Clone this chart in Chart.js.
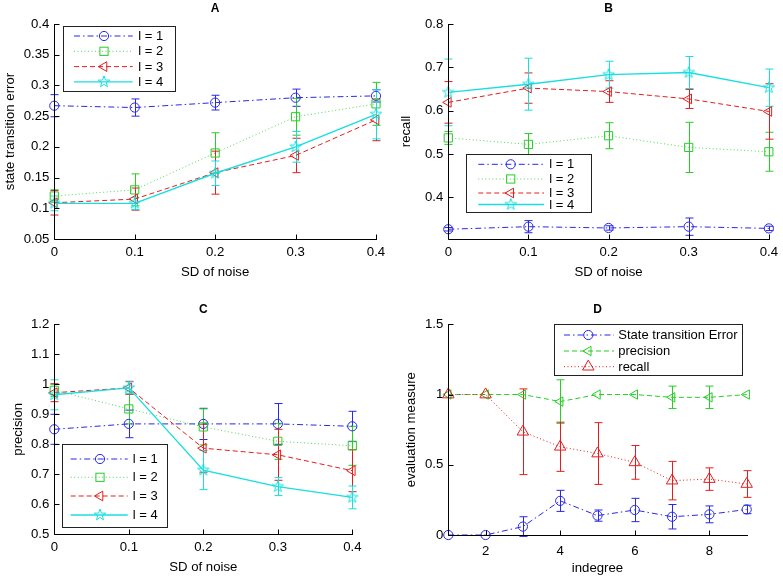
<!DOCTYPE html>
<html><head><meta charset="utf-8">
<script src="https://cdn.jsdelivr.net/npm/chart.js@4/dist/chart.umd.min.js"></script>
<style>
html,body{margin:0;padding:0;background:#fff;}
#wrap{position:relative;width:783px;height:578px;background:#fff;}
canvas{position:absolute;left:0;top:0;}
</style></head><body>
<div id="wrap">
<canvas id="cA" width="783" height="578"></canvas>
<canvas id="cB" width="783" height="578"></canvas>
<canvas id="cC" width="783" height="578"></canvas>
<canvas id="cD" width="783" height="578"></canvas>
</div>
<script>
// ---------------- DATA ----------------
const noiseSD = [0, 0.1, 0.2, 0.3, 0.4];
const noiseTickLabels = ['0', '0.1', '0.2', '0.3', '0.4'];
const lagLabels = ['l = 1', 'l = 2', 'l = 3', 'l = 4'];

// Panel A: state transition error
const steL1 = [0.267, 0.264, 0.272, 0.280, 0.283];
const steL1Err = [0.018, 0.014, 0.012, 0.014, 0.010];
const steL2 = [0.120, 0.130, 0.190, 0.249, 0.270];
const steL2Err = [0.010, 0.026, 0.033, 0.030, 0.035];
const steL3 = [0.109, 0.115, 0.158, 0.186, 0.244];
const steL3Err = [0.020, 0.018, 0.035, 0.028, 0.034];
const steL4 = [0.108, 0.108, 0.157, 0.200, 0.253];
const steL4Err = [0.012, 0.010, 0.020, 0.025, 0.040];
const yTicksA = [0.05, 0.1, 0.15, 0.2, 0.25, 0.3, 0.35, 0.4];
const yTickLabelsA = ['0.05', '0.1', '0.15', '0.2', '0.25', '0.3', '0.35', '0.4'];

// Panel B: recall
const recL1 = [0.326, 0.332, 0.329, 0.332, 0.328];
const recL1Err = [0.004, 0.014, 0.005, 0.020, 0.005];
const recL2 = [0.537, 0.522, 0.542, 0.515, 0.505];
const recL2Err = [0.015, 0.025, 0.030, 0.058, 0.045];
const recL3 = [0.619, 0.652, 0.644, 0.627, 0.598];
const recL3Err = [0.048, 0.035, 0.025, 0.022, 0.064];
const recL4 = [0.642, 0.661, 0.683, 0.688, 0.653];
const recL4Err = [0.077, 0.060, 0.031, 0.037, 0.043];
const yTicksB = [0.4, 0.5, 0.6, 0.7, 0.8];
const yTickLabelsB = ['0.4', '0.5', '0.6', '0.7', '0.8'];

// Panel C: precision
const preL1 = [0.850, 0.868, 0.868, 0.868, 0.860];
const preL1Err = [0.050, 0.046, 0.052, 0.068, 0.050];
const preL2 = [0.980, 0.918, 0.858, 0.810, 0.795];
const preL2Err = [0.020, 0.050, 0.060, 0.060, 0.065];
const preL3 = [0.972, 0.988, 0.787, 0.765, 0.712];
const preL3Err = [0.030, 0.022, 0.080, 0.085, 0.070];
const preL4 = [0.965, 0.988, 0.714, 0.659, 0.623];
const preL4Err = [0.050, 0.020, 0.065, 0.030, 0.038];
const yTicksC = [0.5, 0.6, 0.7, 0.8, 0.9, 1.0, 1.1, 1.2];
const yTickLabelsC = ['0.5', '0.6', '0.7', '0.8', '0.9', '1', '1.1', '1.2'];

// Panel D: evaluation measure vs indegree
const indegree = [1, 2, 3, 4, 5, 6, 7, 8, 9];
const measureLabels = ['State transition Error', 'precision', 'recall'];
const dSte = [0, 0, 0.060, 0.243, 0.138, 0.178, 0.130, 0.147, 0.182];
const dSteErr = [0, 0, 0.070, 0.075, 0.040, 0.083, 0.087, 0.060, 0.030];
const dPre = [1, 1, 1, 0.950, 1, 1, 0.980, 0.980, 1];
const dPreErr = [0, 0, 0, 0.155, 0, 0, 0.080, 0.080, 0];
const dRec = [1, 1, 0.735, 0.628, 0.580, 0.517, 0.387, 0.398, 0.363];
const dRecErr = [0, 0, 0.305, 0.175, 0.220, 0.120, 0.137, 0.080, 0.095];
const xTicksD = [2, 4, 6, 8];
const xTickLabelsD = ['2', '4', '6', '8'];
const yTicksD = [0, 0.5, 1, 1.5];
const yTickLabelsD = ['0', '0.5', '1', '1.5'];

// ---------------- STYLE ----------------
const FONT = "'Liberation Sans', Arial, Helvetica, sans-serif";
const TICK_SIZE = 13.2, TITLE_SIZE = 13.2, LEGEND_SIZE = 13;
const BLUE = 'rgb(40,40,230)', GREEN = 'rgb(40,205,40)', RED = 'rgb(228,30,30)', CYAN = 'rgb(25,222,222)';
const DASHDOT = [6, 3, 1.5, 3], DASHED = [5, 3], DOTTED = [1, 2.5], SOLID = [];

function makeStar(color, R) {
  const c = document.createElement('canvas');
  const s = Math.ceil(2 * R + 4);
  c.width = s; c.height = s;
  const g = c.getContext('2d');
  g.strokeStyle = color; g.lineWidth = 1;
  g.beginPath();
  for (let k = 0; k < 10; k++) {
    const rr = k % 2 ? R * 0.40 : R;
    const a = -Math.PI / 2 + k * Math.PI / 5;
    const px = s / 2 + rr * Math.cos(a), py = s / 2 + rr * Math.sin(a);
    if (k) g.lineTo(px, py); else g.moveTo(px, py);
  }
  g.closePath(); g.stroke();
  return c;
}
const STAR = makeStar(CYAN, 6);

const lagStyles = [
  { color: BLUE, dash: DASHDOT, pointStyle: 'circle', r: 4.6, rot: 0, width: 1 },
  { color: GREEN, dash: DOTTED, pointStyle: 'rect', r: 5.8, rot: 0, width: 0.8 },
  { color: RED, dash: DASHED, pointStyle: 'triangle', r: 5.6, rot: -90, width: 1 },
  { color: CYAN, dash: SOLID, pointStyle: STAR, r: 6, rot: 0, width: 1.4 }
];
const dStyles = [
  { color: BLUE, dash: DASHDOT, pointStyle: 'circle', r: 4.6, rot: 0, width: 1 },
  { color: GREEN, dash: DASHED, pointStyle: 'triangle', r: 5.4, rot: -90, width: 1 },
  { color: RED, dash: DOTTED, pointStyle: 'triangle', r: 6.6, rot: 0, width: 1 }
];

function buildDatasets(xs, series, errs, labels, styles) {
  return series.map((vals, i) => ({
    label: labels[i],
    data: xs.map((x, j) => ({ x: x, y: vals[j] })),
    errors: errs[i],
    borderColor: styles[i].color,
    backgroundColor: 'rgba(0,0,0,0)',
    borderWidth: styles[i].width,
    borderDash: styles[i].dash,
    pointStyle: styles[i].pointStyle,
    pointRadius: styles[i].r,
    pointRotation: styles[i].rot,
    pointBorderColor: styles[i].color,
    pointBackgroundColor: 'rgba(0,0,0,0)',
    pointBorderWidth: 1,
    tension: 0,
    fill: false,
    clip: false,
    order: series.length - i
  }));
}

function drawMarker(ctx, ds, x, y) {
  const st = ds.pointStyle, r = ds.pointRadius;
  ctx.save();
  ctx.setLineDash([]);
  ctx.strokeStyle = ds.borderColor;
  ctx.lineWidth = 1;
  if (st instanceof HTMLCanvasElement) {
    ctx.drawImage(st, x - st.width / 2, y - st.height / 2);
  } else if (st === 'circle') {
    ctx.beginPath(); ctx.arc(x, y, r, 0, Math.PI * 2); ctx.stroke();
  } else if (st === 'rect') {
    const s = Math.SQRT1_2 * r;
    ctx.strokeRect(x - s, y - s, 2 * s, 2 * s);
  } else if (st === 'triangle') {
    let a = (ds.pointRotation || 0) * Math.PI / 180;
    ctx.beginPath();
    ctx.moveTo(x + Math.sin(a) * r, y - Math.cos(a) * r);
    a += 2 * Math.PI / 3; ctx.lineTo(x + Math.sin(a) * r, y - Math.cos(a) * r);
    a += 2 * Math.PI / 3; ctx.lineTo(x + Math.sin(a) * r, y - Math.cos(a) * r);
    ctx.closePath(); ctx.stroke();
  }
  ctx.restore();
}

const deco = {
  id: 'deco',
  beforeDatasetsDraw(chart) {
    const ctx = chart.ctx, ys = chart.scales.y;
    chart.data.datasets.forEach((ds, di) => {
      const meta = chart.getDatasetMeta(di);
      ctx.save();
      ctx.strokeStyle = ds.borderColor; ctx.lineWidth = 1; ctx.setLineDash([]);
      meta.data.forEach((pt, i) => {
        const e = ds.errors[i];
        if (!e) return;
        const v = ds.data[i].y;
        const y1 = ys.getPixelForValue(v - e), y2 = ys.getPixelForValue(v + e);
        const x = Math.round(pt.x) + 0.5;
        ctx.beginPath();
        ctx.moveTo(x, y1); ctx.lineTo(x, y2);
        ctx.moveTo(x - 4, y1); ctx.lineTo(x + 4, y1);
        ctx.moveTo(x - 4, y2); ctx.lineTo(x + 4, y2);
        ctx.stroke();
      });
      ctx.restore();
    });
  },
  afterDraw(chart, args, opts) {
    const ctx = chart.ctx, a = chart.chartArea;
    const xs = chart.scales.x, ys = chart.scales.y;
    ctx.save();
    // axis lines
    ctx.strokeStyle = '#000'; ctx.lineWidth = 1; ctx.setLineDash([]);
    const lx = Math.round(a.left) + 0.5, by = Math.round(a.bottom) + 0.5;
    ctx.beginPath();
    ctx.moveTo(lx, Math.round(a.top)); ctx.lineTo(lx, by);
    ctx.lineTo(Math.round(a.right) + 1, by);
    ctx.stroke();
    // inward ticks
    ctx.beginPath();
    ys.ticks.forEach(t => {
      const y = Math.round(ys.getPixelForValue(t.value)) + 0.5;
      ctx.moveTo(lx, y); ctx.lineTo(lx + 5, y);
    });
    xs.ticks.forEach(t => {
      const x = Math.round(xs.getPixelForValue(t.value)) + 0.5;
      ctx.moveTo(x, by); ctx.lineTo(x, by - 5);
    });
    ctx.stroke();
    // panel title
    ctx.fillStyle = '#000';
    ctx.font = 'bold 12px ' + FONT;
    ctx.textAlign = 'center'; ctx.textBaseline = 'middle';
    ctx.fillText(opts.title, (a.left + a.right) / 2, a.top - 15);
    // legend
    const L = opts.legend;
    ctx.fillStyle = '#fff';
    ctx.fillRect(L.box[0], L.box[1], L.box[2] - L.box[0], L.box[3] - L.box[1]);
    ctx.strokeStyle = '#222'; ctx.lineWidth = 1;
    ctx.strokeRect(Math.round(L.box[0]) + 0.5, Math.round(L.box[1]) + 0.5,
      Math.round(L.box[2] - L.box[0]), Math.round(L.box[3] - L.box[1]));
    chart.data.datasets.forEach((ds, i) => {
      const y = L.rows[i];
      ctx.save();
      ctx.strokeStyle = ds.borderColor; ctx.lineWidth = ds.borderWidth;
      ctx.setLineDash(ds.borderDash);
      ctx.beginPath(); ctx.moveTo(L.line[0], y); ctx.lineTo(L.line[1], y); ctx.stroke();
      ctx.restore();
      drawMarker(ctx, ds, L.marker, y);
      ctx.fillStyle = '#000';
      ctx.font = LEGEND_SIZE + 'px ' + FONT;
      ctx.textAlign = 'left'; ctx.textBaseline = 'middle';
      ctx.fillText(ds.label, L.text, y + 0.5);
    });
    ctx.restore();
  }
};

function makeChart(id, c) {
  const [L, T, R, B] = c.area;
  const scaleLeft = c.yTitleX - 7.9;
  const Wy = L - scaleLeft;
  const Hx = 41;
  return new Chart(document.getElementById(id), {
    type: 'line',
    data: { datasets: c.datasets },
    plugins: [deco],
    options: {
      responsive: false,
      animation: false,
      events: [],
      layout: { padding: { left: scaleLeft, top: T, right: 783 - R, bottom: 578 - B - Hx } },
      plugins: {
        legend: { display: false },
        tooltip: { enabled: false },
        title: { display: false },
        deco: { title: c.title, legend: c.legend }
      },
      scales: {
        x: {
          type: 'linear', min: c.xMin, max: c.xMax,
          afterBuildTicks: s => { s.ticks = c.xTicks.map(v => ({ value: v })); },
          afterFit: s => { s.height = Hx; },
          grid: { display: false, drawTicks: false },
          border: { display: false },
          ticks: {
            callback: (v, i) => c.xTickLabels[i], color: '#000', padding: c.xPad,
            font: { family: FONT, size: TICK_SIZE }, maxRotation: 0, autoSkip: false
          },
          title: { display: true, text: c.xTitle, color: '#000', font: { family: FONT, size: TITLE_SIZE }, padding: { top: 0, bottom: 0 } }
        },
        y: {
          type: 'linear', min: c.yMin, max: c.yMax,
          afterBuildTicks: s => { s.ticks = c.yTicks.map(v => ({ value: v })); },
          afterFit: s => { s.width = Wy; },
          grid: { display: false, drawTicks: false },
          border: { display: false },
          ticks: {
            callback: (v, i) => c.yTickLabels[i], color: '#000', padding: 5,
            font: { family: FONT, size: TICK_SIZE }, autoSkip: false
          },
          title: { display: true, text: c.yTitle, color: '#000', font: { family: FONT, size: TITLE_SIZE }, padding: { top: 0, bottom: 0 } }
        }
      }
    }
  });
}

makeChart('cA', {
  area: [54.3, 24, 376, 239], title: 'A', yTitleX: 10,
  xMin: 0, xMax: 0.4, xTicks: noiseSD, xTickLabels: noiseTickLabels, xPad: 5,
  yMin: 0.05, yMax: 0.4, yTicks: yTicksA, yTickLabels: yTickLabelsA,
  xTitle: 'SD of noise', yTitle: 'state transition error',
  datasets: buildDatasets(noiseSD, [steL1, steL2, steL3, steL4], [steL1Err, steL2Err, steL3Err, steL4Err], lagLabels, lagStyles),
  legend: { box: [63.3, 25.7, 175.7, 91], rows: [36, 51.3, 66.6, 81.9], line: [74, 132.7], marker: 104, text: 138.3 }
});

makeChart('cB', {
  area: [448.3, 24, 770, 239], title: 'B', yTitleX: 406,
  xMin: 0, xMax: 0.4, xTicks: noiseSD, xTickLabels: noiseTickLabels, xPad: 5,
  yMin: 0.3035, yMax: 0.8, yTicks: yTicksB, yTickLabels: yTickLabelsB,
  xTitle: 'SD of noise', yTitle: 'recall',
  datasets: buildDatasets(noiseSD, [recL1, recL2, recL3, recL4], [recL1Err, recL2Err, recL3Err, recL4Err], lagLabels, lagStyles),
  legend: { box: [466, 154.3, 591, 212.7], rows: [164.3, 179, 193, 204.5], line: [478.3, 544], marker: 510.7, text: 549.3 }
});

makeChart('cC', {
  area: [54.3, 324.3, 352.3, 534.3], title: 'C', yTitleX: 18,
  xMin: 0, xMax: 0.4, xTicks: noiseSD, xTickLabels: noiseTickLabels, xPad: 5,
  yMin: 0.5, yMax: 1.2, yTicks: yTicksC, yTickLabels: yTickLabelsC,
  xTitle: 'SD of noise', yTitle: 'precision',
  datasets: buildDatasets(noiseSD, [preL1, preL2, preL3, preL4], [preL1Err, preL2Err, preL3Err, preL4Err], lagLabels, lagStyles),
  legend: { box: [62.3, 444.3, 167.3, 527.7], rows: [459, 477.3, 496, 515], line: [70.7, 127.7], marker: 100, text: 132.7 }
});

makeChart('cD', {
  area: [448.3, 324.3, 746.7, 535], title: 'D', yTitleX: 411,
  xMin: 1, xMax: 9, xTicks: xTicksD, xTickLabels: xTickLabelsD, xPad: 8,
  yMin: 0, yMax: 1.5, yTicks: yTicksD, yTickLabels: yTickLabelsD,
  xTitle: 'indegree', yTitle: 'evaluation measure',
  datasets: buildDatasets(indegree, [dSte, dPre, dRec], [dSteErr, dPreErr, dRecErr], measureLabels, dStyles),
  legend: { box: [553.7, 324.3, 742, 375], rows: [335, 351, 366.7], line: [564, 614], marker: 588.3, text: 618.3 }
});
</script>
</body></html>
